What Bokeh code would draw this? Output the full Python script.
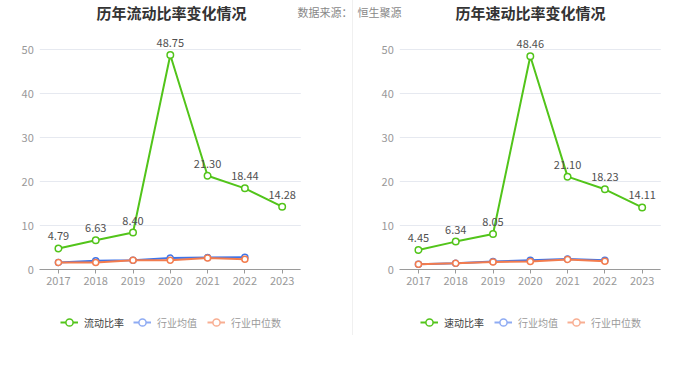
from bokeh.plotting import figure
from bokeh.models import (ColumnDataSource, Range1d, FixedTicker, Label, Legend,
                          LegendItem, Div)
from bokeh.core.properties import value
from bokeh.layouts import row
from bokeh.embed import file_html
from bokeh.resources import INLINE

# ---------------- data ----------------
years = ["2017", "2018", "2019", "2020", "2021", "2022", "2023"]
industry_years = ["2017", "2018", "2019", "2020", "2021", "2022"]

current_ratio = [4.79, 6.63, 8.40, 48.75, 21.30, 18.44, 14.28]
current_ind_avg = [1.6, 2.0, 2.1, 2.6, 2.7, 2.8]
current_ind_med = [1.6, 1.6, 2.1, 2.1, 2.6, 2.35]

quick_ratio = [4.45, 6.34, 8.05, 48.46, 21.10, 18.23, 14.11]
quick_ind_avg = [1.2, 1.4, 1.8, 2.1, 2.4, 2.1]
quick_ind_med = [1.2, 1.4, 1.7, 1.8, 2.3, 1.9]

y_ticks = [0, 10, 20, 30, 40, 50]
titles = ["历年流动比率变化情况", "历年速动比率变化情况"]
main_names = ["流动比率", "速动比率"]
avg_name = "行业均值"
med_name = "行业中位数"
source_left = "数据来源："
source_right = "恒生聚源"

# ---------------- style / layout ----------------
FONT = "Noto Sans CJK SC"
GREEN = "#52c41a"
BLUE = "#3f74e8"
ORANGE = "#f37c4e"
BLUE_LIGHT = "#8eabf3"
ORANGE_LIGHT = "#f8ae92"

FIG_H = 360
AXIS_BOTTOM_PX = 269          # page y of value 0
PX_PER_UNIT = 220.0 / 50      # vertical scale
PX_PER_CAT = 261.0 / 7        # horizontal category width

year_nums = [int(y) for y in years]
ind_nums = [int(y) for y in industry_years]
x_lo = year_nums[0] - 0.5
x_hi = year_nums[-1] + 0.5
NAN = float("nan")


def make_chart(title, main_name, main_vals, avg_vals, med_vals, width, plot_left_px,
               title_x, legend_xs, src_text, src_x):
    x_start = x_lo - plot_left_px / PX_PER_CAT
    x_end = x_start + width / PX_PER_CAT
    y_start = -(FIG_H - AXIS_BOTTOM_PX) / PX_PER_UNIT
    y_end = AXIS_BOTTOM_PX / PX_PER_UNIT

    p = figure(width=width, height=FIG_H,
               x_range=Range1d(x_start, x_end), y_range=Range1d(y_start, y_end),
               output_backend="svg", toolbar_location=None,
               min_border_left=0, min_border_right=0,
               min_border_top=0, min_border_bottom=0)
    p.outline_line_color = None
    p.xgrid.visible = False
    p.ygrid.visible = False

    # horizontal grid lines limited to the plot area
    p.segment(x0=[x_lo] * len(y_ticks), x1=[x_hi] * len(y_ticks),
              y0=y_ticks, y1=y_ticks, line_color="#e6e9f0", line_width=1)

    p.yaxis.fixed_location = x_lo
    p.yaxis.ticker = FixedTicker(ticks=y_ticks)
    p.yaxis.axis_line_color = None
    p.yaxis.major_tick_line_color = None
    p.yaxis.minor_tick_line_color = None
    p.yaxis.major_tick_out = 0
    p.yaxis.major_tick_in = 0
    p.yaxis.major_label_standoff = 6
    p.yaxis.major_label_text_font = FONT
    p.yaxis.major_label_text_font_size = "11px"
    p.yaxis.major_label_text_color = "#999999"

    p.xaxis.fixed_location = 0
    p.xaxis.bounds = (x_lo, x_hi)
    p.xaxis.ticker = FixedTicker(ticks=year_nums)
    p.xaxis.axis_line_color = "#9a9a9a"
    p.xaxis.major_tick_line_color = "#9a9a9a"
    p.xaxis.minor_tick_line_color = None
    p.xaxis.major_tick_out = 4
    p.xaxis.major_tick_in = 0
    p.xaxis.major_label_standoff = 3
    p.xaxis.major_label_text_font = FONT
    p.xaxis.major_label_text_font_size = "11px"
    p.xaxis.major_label_text_color = "#999999"

    main_src = ColumnDataSource(dict(x=year_nums, y=main_vals,
                                     label=["%.2f" % v for v in main_vals]))
    avg_src = ColumnDataSource(dict(x=ind_nums, y=avg_vals))
    med_src = ColumnDataSource(dict(x=ind_nums, y=med_vals))

    p.line("x", "y", source=avg_src, line_color=BLUE, line_width=2)
    p.scatter("x", "y", source=avg_src, size=6, fill_color="white",
              line_color=BLUE, line_width=1.5)
    p.line("x", "y", source=med_src, line_color=ORANGE, line_width=2)
    p.scatter("x", "y", source=med_src, size=6, fill_color="white",
              line_color=ORANGE, line_width=1.5)
    p.line("x", "y", source=main_src, line_color=GREEN, line_width=2)
    p.scatter("x", "y", source=main_src, size=6.5, fill_color="white",
              line_color=GREEN, line_width=1.5)
    p.text("x", "y", text="label", source=main_src, text_align="center",
           text_baseline="middle", y_offset=-12, text_font_size="11px",
           text_color="#505050", text_font=value(FONT))

    # legend-only renderers (NaN data: nothing drawn in the plot), one legend each
    for name, col, tcol, lx in [(main_name, GREEN, "#404040", legend_xs[0]),
                                (avg_name, BLUE_LIGHT, "#9a9a9a", legend_xs[1]),
                                (med_name, ORANGE_LIGHT, "#9a9a9a", legend_xs[2])]:
        rl = p.line(x=[NAN, NAN], y=[NAN, NAN], line_color=col, line_width=2)
        rc = p.scatter(x=[NAN], y=[NAN], size=8, fill_color="white",
                       line_color=col, line_width=1.5)
        lg = Legend(items=[LegendItem(label=name, renderers=[rl, rc])],
                    location=(lx, FIG_H - 322 - 10), orientation="horizontal",
                    glyph_width=18, glyph_height=20, label_height=20,
                    label_standoff=6, padding=0, margin=0, spacing=0,
                    border_line_color=None, background_fill_alpha=0,
                    label_text_font=FONT, label_text_font_size="10px",
                    label_text_color=tcol)
        p.add_layout(lg, "center")

    p.add_layout(Label(x=title_x, y=FIG_H - 12, x_units="screen", y_units="screen",
                       text=title, text_align="center", text_baseline="middle",
                       text_font=FONT, text_font_size="15px",
                       text_font_style="bold", text_color="#333333"))
    p.add_layout(Label(x=src_x, y=FIG_H - 11, x_units="screen", y_units="screen",
                       text=src_text, text_align="left",
                       text_baseline="middle", text_font=FONT,
                       text_font_size="11px", text_color="#888888"))
    return p


left = make_chart(titles[0], main_names[0], current_ratio, current_ind_avg,
                  current_ind_med, 352, 39.3, 171, (60, 133, 207),
                  source_left, 297)
right = make_chart(titles[1], main_names[1], quick_ratio, quick_ind_avg,
                   quick_ind_med, 347, 46.3, 177, (67, 141, 214),
                   source_right, 4)
divider = Div(text="", width=1, height=335, margin=0,
              styles={"background-color": "#f0f0f0"})

layout = row(left, divider, right, spacing=0)
open("out.html", "w").write(file_html(layout, INLINE))
